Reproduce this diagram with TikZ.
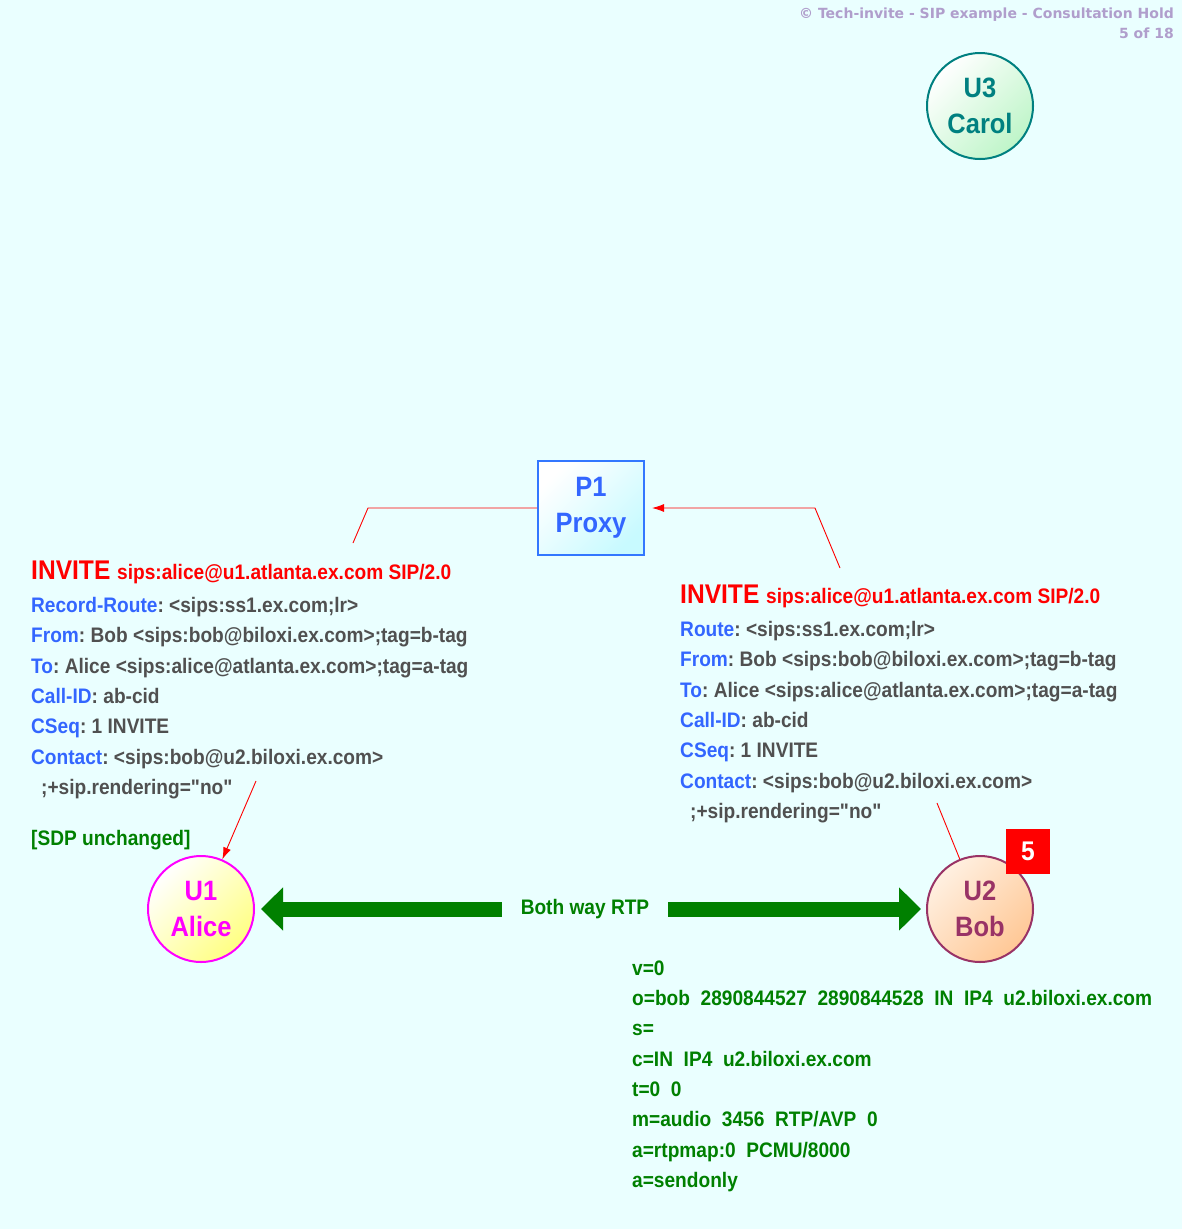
\documentclass[tikz,border=0pt]{standalone}
\usepackage{fontspec}
\setmainfont{Liberation Sans}[FakeStretch=0.91]
\newfontfamily\mainf{Liberation Sans}[FakeStretch=0.91]
\newfontfamily\titlefont{DejaVu Sans}
\usetikzlibrary{arrows.meta,shapes.geometric}
\definecolor{bgc}{RGB}{234,255,255}
\definecolor{labblue}{RGB}{51,102,255}
\definecolor{valgray}{RGB}{80,80,80}
\definecolor{sdpgreen}{RGB}{0,128,0}
\definecolor{titlec}{RGB}{176,158,204}
\definecolor{carolc}{RGB}{0,128,128}
\definecolor{bobc}{RGB}{153,51,102}
\definecolor{alicec}{RGB}{255,0,255}
\definecolor{proxyc}{RGB}{51,119,255}
\newcommand{\lab}[1]{\textcolor{labblue}{#1}}
\frenchspacing
\tikzset{
  ln/.style={anchor=base west, inner sep=0pt, font=\mainf\frenchspacing\fontsize{21}{25}\selectfont\bfseries, text=valgray},
  inv/.style={anchor=base west, inner sep=0pt, text=red, font=\mainf\bfseries},
  sdp/.style={anchor=base west, inner sep=0pt, font=\mainf\fontsize{21}{25}\selectfont\bfseries, text=sdpgreen},
  ue/.style={circle, minimum size=106pt, inner sep=0pt, line width=2pt, align=center,
    font=\mainf\fontsize{28}{36}\selectfont\bfseries},
  msg/.style={red, line width=0.9pt},
  rtp/.style={sdpgreen, line width=15pt, -{Triangle[length=22pt,width=42pt]}}
}
\begin{document}
\begin{tikzpicture}[x=1pt,y=-1pt]
\fill[bgc] (0,0) rectangle (1182,1229);
\useasboundingbox (0,0) rectangle (1182,1229);
% title
\node[anchor=base east, inner sep=0pt, text=titlec, font=\titlefont\bfseries\fontsize{14}{17}\selectfont] (title) at (1174,18) {© Tech-invite - SIP example - Consultation Hold};
\node[anchor=base east, inner sep=0pt, text=titlec, font=\titlefont\bfseries\fontsize{14}{17}\selectfont] (page) at (1174,38) {5 of 18};
% entities
\node[ue, draw=carolc, text=carolc, left color=white, right color={rgb,255:red,190;green,245;blue,200}, shading angle=45] (carol) at (980,106) {U3\\Carol};
\node[draw=proxyc, line width=2pt, minimum width=106pt, minimum height=94pt, inner sep=0pt, align=center,
  text=labblue, font=\mainf\fontsize{28}{36}\selectfont\bfseries,
  left color=white, right color={rgb,255:red,200;green,250;blue,255}, shading angle=45] (proxy) at (591,508) {\raisebox{-2pt}{P1}\\\raisebox{-2pt}{Proxy}};
\node[ue, draw=alicec, text=alicec, left color=white, right color={rgb,255:red,255;green,255;blue,130}, shading angle=45] (alice) at (201,909) {U1\\Alice};
\node[ue, draw=bobc, text=bobc, left color={rgb,255:red,255;green,240;blue,225}, right color={rgb,255:red,255;green,200;blue,150}, shading angle=45] (bob) at (980,909) {U2\\Bob};
\node[fill=red, minimum width=44pt, minimum height=45pt, inner sep=0pt, text=white, font=\mainf\fontsize{27}{30}\selectfont\bfseries] (badge) at (1028,851) {5};
% RTP
\node[inner sep=0pt, minimum width=166pt, minimum height=20pt, text=sdpgreen, font=\mainf\fontsize{21}{25}\selectfont\bfseries] (rtplabel) at (585,909) {Both way RTP};
\draw[rtp, shorten >=6pt] (rtplabel.west) -- (alice.east);
\draw[rtp, shorten >=5pt] (rtplabel.east) -- (bob.west);
% left message
\node[inv] (linv) at (31,579) {\fontsize{27}{32}\selectfont INVITE \fontsize{21}{25}\selectfont sips:alice@u1.atlanta.ex.com SIP/2.0};
\node[ln] (l1) at (31,612) {\lab{Record-Route}: <sips:ss1.ex.com;lr>};
\node[ln] (l2) at (31,642) {\lab{From}: Bob <sips:bob@biloxi.ex.com>;tag=b-tag};
\node[ln] (l3) at (31,673) {\lab{To}: Alice <sips:alice@atlanta.ex.com>;tag=a-tag};
\node[ln] (l4) at (31,703) {\lab{Call-ID}: ab-cid};
\node[ln] (l5) at (31,733) {\lab{CSeq}: 1 INVITE};
\node[ln] (l6) at (31,764) {\lab{Contact}: <sips:bob@u2.biloxi.ex.com>};
\node[ln] (l7) at (41,794) {;+sip.rendering="no"};
\node[sdp] (l8) at (31,845) {[SDP unchanged]};
% right message
\node[inv] (rinv) at (680,603) {\fontsize{27}{32}\selectfont INVITE \fontsize{21}{25}\selectfont sips:alice@u1.atlanta.ex.com SIP/2.0};
\node[ln] (r1) at (680,636) {\lab{Route}: <sips:ss1.ex.com;lr>};
\node[ln] (r2) at (680,666) {\lab{From}: Bob <sips:bob@biloxi.ex.com>;tag=b-tag};
\node[ln] (r3) at (680,697) {\lab{To}: Alice <sips:alice@atlanta.ex.com>;tag=a-tag};
\node[ln] (r4) at (680,727) {\lab{Call-ID}: ab-cid};
\node[ln] (r5) at (680,757) {\lab{CSeq}: 1 INVITE};
\node[ln] (r6) at (680,788) {\lab{Contact}: <sips:bob@u2.biloxi.ex.com>};
\node[ln] (r7) at (690,818) {;+sip.rendering="no"};
% SDP
\node[sdp] (s1) at (632,975) {v=0};
\node[sdp] (s2) at (632,1005) {o=bob~~2890844527~~2890844528~~IN~~IP4~~u2.biloxi.ex.com};
\node[sdp] (s3) at (632,1035) {s=};
\node[sdp] (s4) at (632,1066) {c=IN~~IP4~~u2.biloxi.ex.com};
\node[sdp] (s5) at (632,1096) {t=0~~0};
\node[sdp] (s6) at (632,1126) {m=audio~~3456~~RTP/AVP~~0};
\node[sdp] (s7) at (632,1157) {a=rtpmap:0~~PCMU/8000};
\node[sdp] (s8) at (632,1187) {a=sendonly};
% message connectors
\coordinate (lbend) at (368,508);
\coordinate (ltop) at (353,543);
\coordinate (lbot) at (256,781);
\coordinate (rbend) at (815,508);
\coordinate (rtop) at (840,568);
\coordinate (rbot) at (937,803);
\draw[msg] (proxy.west) -- (lbend) -- (ltop);
\draw[msg, -{Latex[length=12pt,width=8pt]}] (lbot) -- (alice);
\draw[msg] (bob) -- (rbot);
\draw[msg, -{Latex[length=12pt,width=8pt]}, shorten >=7pt] (rtop) -- (rbend) -- (proxy.east);
\end{tikzpicture}
\end{document}
